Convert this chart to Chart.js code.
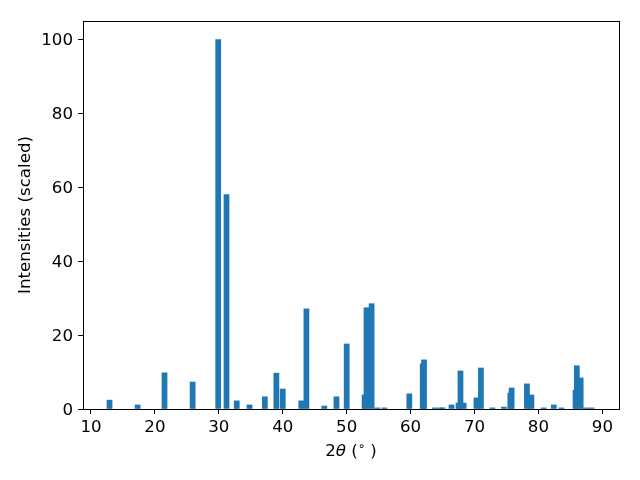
<!DOCTYPE html>
<html>
<head>
<meta charset="utf-8">
<script src="https://cdn.jsdelivr.net/npm/chart.js@4"></script>
<style>
html,body{margin:0;padding:0;background:#fff;}
canvas{display:block;}
</style>
</head>
<body>
<canvas id="c" width="640" height="480"></canvas>
<script>
// Peak positions (2θ, degrees)
const positions = [12.9, 17.3, 21.5, 25.9, 29.9, 31.2, 32.8, 34.8, 37.2, 39.0, 40.0, 42.9, 43.7, 46.5, 48.4, 50.0,
  52.8, 53.1, 53.9, 54.8, 55.9, 59.8, 61.9, 62.1, 63.8, 64.7, 65.0, 66.4, 67.5, 67.8, 68.3, 70.3, 71.0,
  72.8, 74.6, 75.6, 75.8, 78.2, 78.9, 80.8, 82.4, 83.6, 85.8, 86.0, 86.6, 87.4, 88.3];
// Scaled intensities
const intensities = [2.4, 1.1, 9.8, 7.3, 100, 58.0, 2.2, 1.1, 3.3, 9.7, 5.4, 2.2, 27.1, 0.8, 3.3, 17.6,
  3.8, 27.4, 28.5, 0.3, 0.3, 4.1, 12.2, 13.3, 0.3, 0.3, 0.3, 1.1, 1.6, 10.3, 1.6, 3.0, 11.1,
  0.3, 0.5, 4.3, 5.7, 6.8, 3.8, 0.3, 1.1, 0.3, 5.1, 11.7, 8.4, 0.3, 0.3];
const xTicks = [10, 20, 30, 40, 50, 60, 70, 80, 90];
const yTicks = [0, 20, 40, 60, 80, 100];
// x label pieces: [text, style] — rendered as "2θ (°)"
const xLabelParts = [['2', 'n'], ['θ', 'i'], [' (', 'n'], ['∘', 's'], [' )', 'n']];
const yLabel = 'Intensities (scaled)';

const points = positions.map((p, i) => ({x: p, y: intensities[i]}));
const FS = 16.67;
const FONT = {family: 'DejaVu Sans', size: FS};

const frame = {
  id: 'frame',
  afterDraw(chart) {
    const {ctx, chartArea: a} = chart;
    ctx.save();
    ctx.strokeStyle = '#000';
    ctx.lineWidth = 1;
    ctx.strokeRect(Math.round(a.left) + 0.5, Math.round(a.top) + 0.5,
      Math.round(a.right - a.left), Math.round(a.bottom - a.top));
    // x axis title with math styling
    const fontFor = st => st === 'i' ? `oblique ${FS}px "DejaVu Sans"` :
      st === 's' ? `${FS * 0.7}px "DejaVu Sans"` : `${FS}px "DejaVu Sans"`;
    let total = 0;
    const widths = xLabelParts.map(([t, st]) => { ctx.font = fontFor(st); const w = ctx.measureText(t).width; total += w; return w; });
    let x = (a.left + a.right) / 2 - total / 2;
    const y = 452;
    ctx.fillStyle = '#000';
    ctx.textBaseline = 'middle';
    ctx.textAlign = 'left';
    xLabelParts.forEach(([t, st], i) => {
      ctx.font = fontFor(st);
      ctx.fillText(t, x, st === 's' ? y - 5 : y);
      x += widths[i];
    });
    ctx.restore();
  }
};

new Chart(document.getElementById('c'), {
  type: 'bar',
  data: {
    datasets: [{
      data: points,
      backgroundColor: '#1f77b4',
      borderWidth: 0,
      barThickness: 5.1
    }]
  },
  options: {
    responsive: false,
    animation: false,
    devicePixelRatio: 1,
    layout: {padding: {left: 0, top: 21, right: 21, bottom: 0}},
    plugins: {legend: {display: false}, tooltip: {enabled: false}},
    scales: {
      x: {
        type: 'linear',
        min: 8.75,
        max: 92.6,
        offset: false,
        afterBuildTicks(s) { s.ticks = xTicks.map(v => ({value: v})); },
        afterFit(s) { s.height = 71; },
        grid: {display: true, drawOnChartArea: false, drawTicks: true, tickLength: 5, color: '#000', offset: false},
        border: {display: false},
        ticks: {color: '#000', font: FONT, padding: 4, maxRotation: 0, autoSkip: false},
        title: {display: false}
      },
      y: {
        type: 'linear',
        min: 0,
        max: 105,
        afterBuildTicks(s) { s.ticks = yTicks.map(v => ({value: v})); },
        afterFit(s) { s.width = 83; },
        grid: {display: true, drawOnChartArea: false, drawTicks: true, tickLength: 5, color: '#000'},
        border: {display: false},
        ticks: {color: '#000', font: FONT, padding: 5, autoSkip: false, labelOffset: 1.5},
        title: {display: true, text: yLabel, color: '#000', font: FONT, padding: {top: 16, bottom: 0}}
      }
    }
  },
  plugins: [frame]
});
</script>
</body>
</html>
